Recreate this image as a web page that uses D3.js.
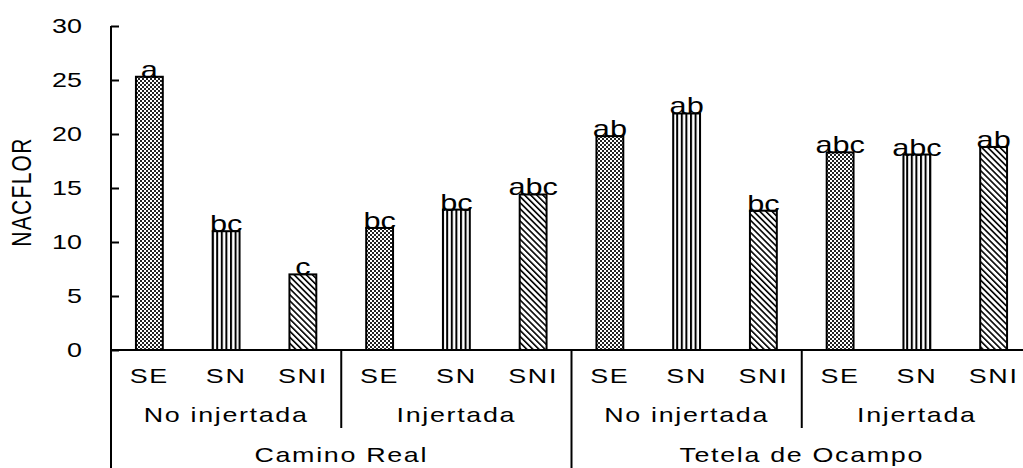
<!DOCTYPE html>
<html>
<head>
<meta charset="utf-8">
<script src="https://cdn.jsdelivr.net/npm/d3@7"></script>
<style>
  body { margin: 0; background: #fff; }
  text { font-family: "Liberation Sans", Arial, sans-serif; fill: #000; }
</style>
</head>
<body>
<div id="chart-area"></div>
<script>
// data
const sites = ["Camino Real", "Tetela de Ocampo"];
const grafts = ["No injertada", "Injertada"];
const substrates = ["SE", "SN", "SNI"];
const values = [25.3, 11.0, 7.0, 11.3, 13.0, 14.4, 19.8, 21.9, 12.9, 18.3, 18.1, 18.8];
const letters = ["a", "bc", "c", "bc", "bc", "abc", "ab", "ab", "bc", "abc", "abc", "ab"];
const yTicks = [0, 5, 10, 15, 20, 25, 30];

const W = 1023, H = 468;
const x0 = 111, x1 = 1032, yTop = 26, yBase = 350;
const sx = 1.28; // the source text is drawn wide

const svg = d3.select("#chart-area")
    .append("svg")
    .attr("width", W)
    .attr("height", H);

// places a text at (x, y) and stretches it sideways
const wide = (sel, fx, fy) => sel
    .attr("transform", (d, i) => "translate(" + fx(d, i) + "," + fy(d, i) + ") scale(" + sx + ",1)");

// hatch patterns
const defs = svg.append("defs");
const pSE = defs.append("pattern").attr("id", "pSE")
    .attr("width", 4).attr("height", 4).attr("patternUnits", "userSpaceOnUse");
pSE.append("rect").attr("width", 4).attr("height", 4).attr("fill", "#fff");
pSE.append("rect").attr("width", 2).attr("height", 2).attr("fill", "#222");
pSE.append("rect").attr("x", 2).attr("y", 2).attr("width", 2).attr("height", 2).attr("fill", "#222");
const pSN = defs.append("pattern").attr("id", "pSN")
    .attr("width", 4.6).attr("height", 4).attr("patternUnits", "userSpaceOnUse");
pSN.append("rect").attr("width", 4.6).attr("height", 4).attr("fill", "#fff");
pSN.append("rect").attr("x", 0).attr("width", 2).attr("height", 4).attr("fill", "#000");
const pSNI = defs.append("pattern").attr("id", "pSNI")
    .attr("width", 4.3).attr("height", 4.3).attr("patternUnits", "userSpaceOnUse")
    .attr("patternTransform", "rotate(-45)");
pSNI.append("rect").attr("width", 4.3).attr("height", 4.3).attr("fill", "#fff");
pSNI.append("rect").attr("width", 1.6).attr("height", 4.3).attr("fill", "#000");

// categories: site / graft / substrate
const cats = [];
sites.forEach((s) => grafts.forEach((g) => substrates.forEach((t) => {
    cats.push({ site: s, graft: g, sub: t, key: s + "|" + g + "|" + t });
})));
cats.forEach((c, i) => { c.value = values[i]; c.letter = letters[i]; });

const x = d3.scaleBand()
    .domain(cats.map((c) => c.key))
    .range([x0, x1])
    .paddingInner(0.65)
    .paddingOuter(0.325);
const step = x.step();
const mid = (d) => x(d.key) + x.bandwidth() / 2;

const y = d3.scaleLinear().domain([0, 30]).range([yBase, yTop]);

// y axis
const leftAxis = d3.axisLeft(y)
    .tickValues(yTicks)
    .tickSizeInner(-8)
    .tickSizeOuter(0)
    .tickPadding(29);
const ga = svg.append("g")
    .attr("transform", "translate(" + x0 + ",0)")
    .call(leftAxis);
ga.select(".domain").remove();
ga.selectAll("line").attr("stroke", "#000").attr("stroke-width", 2);
ga.selectAll("text")
    .attr("x", -29 / sx)
    .attr("transform", "scale(" + sx + ",1)")
    .attr("font-size", "21px")
    .attr("font-family", "Liberation Sans, Arial, sans-serif");

// left line down to bottom
svg.append("line")
    .attr("x1", x0).attr("x2", x0).attr("y1", yTop).attr("y2", H)
    .attr("stroke", "#000").attr("stroke-width", 2);

// bars
const fills = { SE: "url(#pSE)", SN: "url(#pSN)", SNI: "url(#pSNI)" };
svg.selectAll("rect.bar").data(cats).enter()
    .append("rect")
    .attr("class", "bar")
    .attr("x", (d) => x(d.key))
    .attr("y", (d) => y(d.value))
    .attr("width", x.bandwidth())
    .attr("height", (d) => yBase - y(d.value))
    .attr("fill", (d) => fills[d.sub])
    .attr("stroke", "#000")
    .attr("stroke-width", 2);

// significance letters
svg.selectAll("text.letter").data(cats).enter()
    .append("text")
    .attr("class", "letter")
    .call(wide, mid, (d) => y(d.value) + 1)
    .attr("text-anchor", "middle")
    .attr("font-size", "24px")
    .text((d) => d.letter);

// baseline
svg.append("line")
    .attr("x1", x0).attr("x2", W).attr("y1", yBase).attr("y2", yBase)
    .attr("stroke", "#000").attr("stroke-width", 2);

// substrate labels
svg.selectAll("text.sub").data(cats).enter()
    .append("text")
    .attr("class", "sub")
    .call(wide, mid, () => 383)
    .attr("text-anchor", "middle")
    .attr("font-size", "21px")
    .attr("letter-spacing", "1.3px")
    .text((d) => d.sub);

// graft groups
const graftGroups = [];
sites.forEach((s) => grafts.forEach((g) => {
    const first = cats.find((c) => c.site === s && c.graft === g);
    graftGroups.push({ site: s, graft: g, start: x(first.key) - x.paddingOuter() * step });
}));
const gw = step * substrates.length;
svg.selectAll("text.graft").data(graftGroups).enter()
    .append("text")
    .attr("class", "graft")
    .call(wide, (d) => d.start + gw / 2, () => 422)
    .attr("text-anchor", "middle")
    .attr("font-size", "21px")
    .attr("letter-spacing", "1.3px")
    .text((d) => d.graft);
svg.selectAll("line.gsep").data(graftGroups.filter((d, i) => i % 2 === 1)).enter()
    .append("line")
    .attr("class", "gsep")
    .attr("x1", (d) => d.start).attr("x2", (d) => d.start)
    .attr("y1", yBase).attr("y2", 428)
    .attr("stroke", "#000").attr("stroke-width", 2);

// site groups
const sw = gw * grafts.length;
const siteGroups = sites.map((s, i) => ({ site: s, start: x0 + i * sw }));
svg.selectAll("text.site").data(siteGroups).enter()
    .append("text")
    .attr("class", "site")
    .call(wide, (d) => d.start + sw / 2, () => 462)
    .attr("text-anchor", "middle")
    .attr("font-size", "21px")
    .attr("letter-spacing", "1.3px")
    .text((d) => d.site);
svg.selectAll("line.ssep").data(siteGroups.slice(1)).enter()
    .append("line")
    .attr("class", "ssep")
    .attr("x1", (d) => d.start).attr("x2", (d) => d.start)
    .attr("y1", yBase).attr("y2", H)
    .attr("stroke", "#000").attr("stroke-width", 2);

// y axis title
svg.append("text")
    .attr("transform", "translate(31,192) scale(" + sx + ",1) rotate(-90)")
    .attr("text-anchor", "middle")
    .attr("font-size", "21px")
    .attr("letter-spacing", "1.3px")
    .text("NACFLOR");
</script>
</body>
</html>
